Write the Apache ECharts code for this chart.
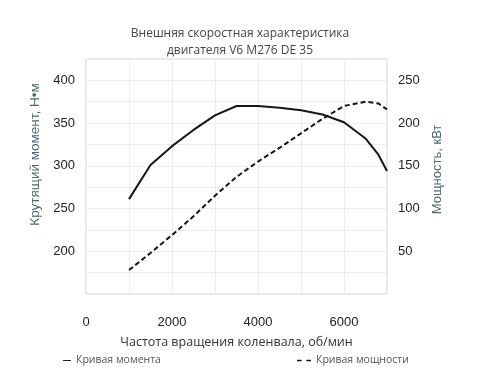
<!DOCTYPE html>
<html><head><meta charset="utf-8">
<script src="https://cdn.jsdelivr.net/npm/echarts@6/dist/echarts.min.js"></script>
<style>html,body{margin:0;padding:0;background:#fff}#c{width:480px;height:372px}</style>
</head><body><div id="c"></div>
<script>
const titleLines = ['Внешняя скоростная характеристика', 'двигателя V6 M276 DE 35'];
const xName = 'Частота вращения коленвала, об/мин';
const leftName = 'Крутящий момент, Н•м';
const rightName = 'Мощность, кВт';
const torqueName = 'Кривая момента';
const powerName = 'Кривая мощности';

const torqueRpm = [1000, 1500, 2000, 2500, 3000, 3500, 4000, 4500, 5000, 5500, 6000, 6500, 6800, 7000];
const torqueNm  = [261, 301, 323, 342, 359, 370, 370, 368, 365, 360, 351, 332, 313, 294];

const powerRpm = [1000, 1500, 2000, 2500, 3000, 3500, 4000, 4500, 5000, 5500, 6000, 6500, 6800, 7000];
const powerKw  = [28, 48, 69, 91, 115, 137, 155, 171, 188, 205, 220, 225, 223, 216];

const pair = (xs, ys) => xs.map((x, i) => [x, ys[i]]);
const font = 'Liberation Sans, Arial, sans-serif';
const font2 = 'Open Sans, Noto Sans, sans-serif';

const chart = echarts.init(document.getElementById('c'), null, {renderer: 'canvas'});
chart.setOption({
  animation: false,
  backgroundColor: '#fff',
  title: {
    text: titleLines.join('\n'),
    left: 'center', top: 20,
    textStyle: {fontFamily: font2, fontSize: 12, fontWeight: 'normal', color: '#444', lineHeight: 17}
  },
  grid: {left: 86, right: 93, top: 59, bottom: 78, show: true, borderColor: '#cfcfcf', borderWidth: 1},
  legend: [
    {data: [{name: torqueName, icon: 'path://M0,0h10v1.2h-10z'}], left: 58, top: 350,
     itemWidth: 8, itemHeight: 1.2, itemGap: 5,
     textStyle: {fontFamily: font2, fontSize: 10.5, color: '#555'}},
    {data: [{name: powerName, icon: 'path://M0,0h4v1.2h-4zM8,0h4v1.2h-4z'}], left: 292, top: 350,
     itemWidth: 14, itemHeight: 1.4,
     textStyle: {fontFamily: font2, fontSize: 10.5, color: '#555'}}
  ],
  xAxis: {
    type: 'value', min: 0, max: 7000, interval: 1000,
    name: xName, nameLocation: 'middle', nameGap: 42,
    nameTextStyle: {fontFamily: font2, fontSize: 12.5, color: '#333'},
    axisLine: {show: false}, axisTick: {show: false},
    axisLabel: {margin: 22, fontFamily: font, fontSize: 13, color: '#222',
      formatter: v => (v % 2000 === 0 ? String(v) : '')},
    splitLine: {show: true, lineStyle: {color: '#ececec'}}
  },
  yAxis: [
    {type: 'value', min: 150, max: 425, interval: 25, position: 'left',
     name: leftName, nameLocation: 'middle', nameGap: 40, nameRotate: 90,
     nameTextStyle: {fontFamily: font, fontSize: 13.5, color: '#4b6b72', padding: [0, 0, 0, 44]},
     axisLine: {show: false}, axisTick: {show: false},
     axisLabel: {margin: 11, fontFamily: font, fontSize: 13, color: '#222',
       formatter: v => (v % 50 === 0 && v !== 150 && v <= 400 ? String(v) : '')},
     splitLine: {show: true, lineStyle: {color: '#ececec'}}},
    {type: 'value', min: 0, max: 275, interval: 25, position: 'right',
     name: rightName, nameLocation: 'middle', nameGap: 36, nameRotate: 90,
     nameTextStyle: {fontFamily: font, fontSize: 13, color: '#4b6b72', padding: [0, 0, 0, 14]},
     axisLine: {show: false}, axisTick: {show: false},
     axisLabel: {margin: 11, fontFamily: font, fontSize: 13, color: '#222',
       formatter: v => (v % 50 === 0 && v !== 0 && v <= 250 ? String(v) : '')},
     splitLine: {show: false}}
  ],
  series: [
    {name: torqueName, type: 'line', yAxisIndex: 0, data: pair(torqueRpm, torqueNm),
     symbol: 'none', lineStyle: {color: '#161616', width: 2}, itemStyle: {color: '#161616'}},
    {name: powerName, type: 'line', yAxisIndex: 1, data: pair(powerRpm, powerKw),
     symbol: 'none', lineStyle: {color: '#161616', width: 2, type: [5, 3]}, itemStyle: {color: '#161616'}}
  ]
});
</script></body></html>
